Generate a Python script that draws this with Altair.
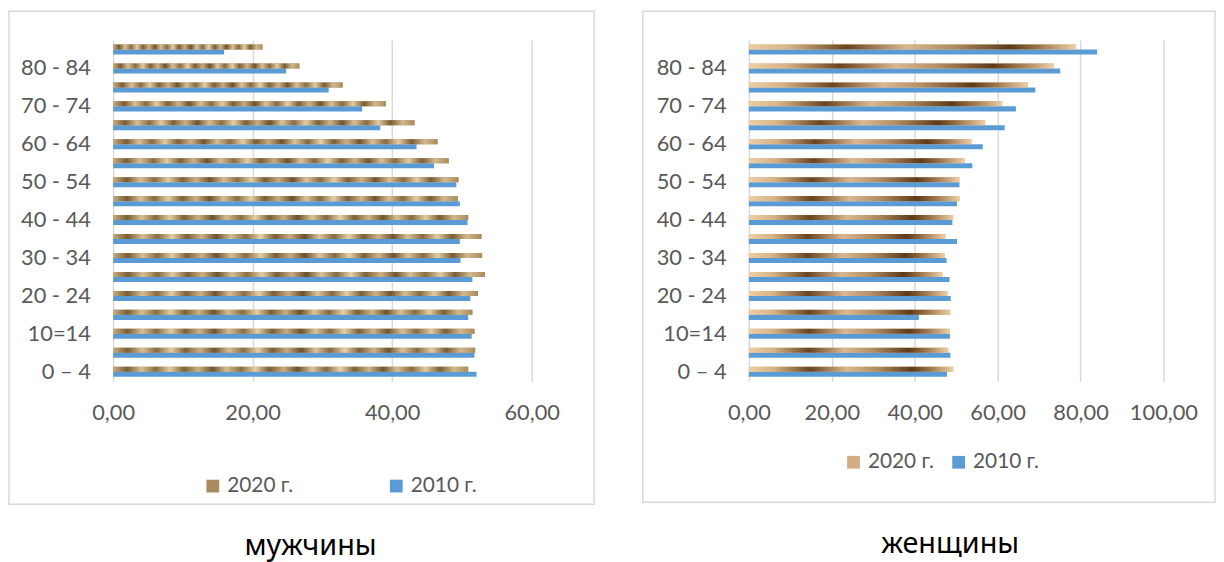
import altair as alt
import pandas as pd

ages = ["0 – 4", "5 - 9", "10=14", "15 - 19", "20 - 24", "25 - 29", "30 - 34", "35 - 39",
        "40 - 44", "45 - 49", "50 - 54", "55 - 59", "60 - 64", "65 - 69", "70 - 74",
        "75 - 79", "80 - 84", "85+"]
shown_ages = ["0 – 4", "10=14", "20 - 24", "30 - 34", "40 - 44", "50 - 54", "60 - 64", "70 - 74", "80 - 84"]
series = ["2020 г.", "2010 г."]

men_2020 = [50.9, 51.9, 51.8, 51.5, 52.3, 53.3, 52.9, 52.8, 50.9, 49.4, 49.5, 48.1, 46.5, 43.2, 39.1, 32.9, 26.7, 21.4]
men_2010 = [52.1, 51.8, 51.4, 50.9, 51.2, 51.5, 49.8, 49.7, 50.8, 49.7, 49.2, 46.0, 43.5, 38.3, 35.7, 30.9, 24.8, 15.9]
women_2020 = [49.3, 48.1, 48.4, 48.6, 47.9, 46.7, 47.2, 47.4, 49.3, 50.8, 50.8, 52.0, 53.7, 57.0, 61.1, 67.3, 73.5, 78.8]
women_2010 = [47.8, 48.6, 48.5, 41.0, 48.7, 48.4, 47.7, 50.2, 49.1, 50.2, 50.8, 53.9, 56.4, 61.7, 64.4, 69.1, 75.1, 84.0]

FONT = "Lato, 'Noto Sans', sans-serif"
GRAY = "#595959"
BLUE = "#5B9BD5"

def stops(pairs):
    return [alt.GradientStop(offset=o, color=c) for o, c in pairs]

men_grad = alt.LinearGradient(
    gradient="linear", x1=0, x2=1, y1=0, y2=0,
    stops=stops([(0.00, "#C9AD7E"), (0.04, "#7A5C35"), (0.08, "#D8C094"), (0.12, "#8A6A40"),
                 (0.16, "#E2CDA2"), (0.20, "#7E5F36"), (0.24, "#CDB285"), (0.28, "#6E5230"),
                 (0.32, "#D6BE92"), (0.36, "#8C6C42"), (0.40, "#E4D0A6"), (0.44, "#7A5C35"),
                 (0.48, "#C8AC7E"), (0.52, "#6C4F2C"), (0.56, "#DCC59A"), (0.60, "#866741"),
                 (0.64, "#E6D2A8"), (0.68, "#7C5E37"), (0.72, "#CFB487"), (0.76, "#70532F"),
                 (0.80, "#D9C195"), (0.84, "#8A6A40"), (0.88, "#E2CDA2"), (0.92, "#7A5C35"),
                 (0.96, "#D2B88B"), (1.00, "#A98B5E")]))

women_grad = alt.LinearGradient(
    gradient="linear", x1=0, x2=1, y1=0, y2=0,
    stops=stops([(0.00, "#EDCFA6"), (0.12, "#D8B386"), (0.30, "#6A4420"), (0.38, "#9C7650"),
                 (0.48, "#D9B890"), (0.62, "#B38D63"), (0.80, "#5E3A18"), (0.88, "#9A7046"),
                 (1.00, "#ECCFA8")]))


def panel(v2020, v2010, xmax, width, title, frame, leg_xy, col_pad, solid, grad, title_dx):
    df = pd.DataFrame({
        "age": ages * 2,
        "series": [series[0]] * len(ages) + [series[1]] * len(ages),
        "value": v2020 + v2010,
    })
    y = alt.Y("age:N", sort=ages[::-1],
              scale=alt.Scale(paddingInner=0.47, paddingOuter=0.235),
              axis=alt.Axis(values=shown_ages, title=None, ticks=False, domain=False,
                            labelPadding=23, labelFontSize=22, labelColor=GRAY,
                            labelFont=FONT, grid=False))
    x = alt.X("value:Q", scale=alt.Scale(domain=[0, xmax], nice=False),
              axis=alt.Axis(values=list(range(0, xmax + 1, 20)), title=None, ticks=False,
                            domain=False, labelPadding=22, labelFontSize=22,
                            labelColor=GRAY, labelFont=FONT, labelOverlap=False,
                            labelFlush=False,
                            labelExpr="replace(format(datum.value, '.2f'), '.', ',')",
                            grid=True, gridColor="#D9D9D9", gridWidth=1.5))
    yoff = alt.YOffset("series:N", sort=series,
                       scale=alt.Scale(domain=series, paddingInner=0, paddingOuter=0))
    base = alt.Chart(df)
    bars = base.mark_bar(cornerRadius=0).encode(
        x=x, y=y, yOffset=yoff,
        color=alt.Color("series:N", sort=series,
                        scale=alt.Scale(domain=series, range=[solid, BLUE]),
                        legend=alt.Legend(title=None, orient="none", legendX=leg_xy[0],
                                          legendY=leg_xy[1], direction="horizontal",
                                          symbolType="square", symbolSize=165,
                                          symbolStrokeWidth=0, labelFontSize=21,
                                          labelFont=FONT, labelColor=GRAY,
                                          columnPadding=col_pad, labelOffset=4, padding=0)),
    )
    overlay = base.transform_filter(alt.datum.series == series[0]).mark_bar(
        fill=grad, cornerRadius=0).encode(x=x, y=y, yOffset=yoff)
    box = alt.Chart(alt.Data(values=[{}])).mark_rect(
        fill="transparent", stroke="#D9D9D9", strokeWidth=1.5).encode(
        x=alt.value(frame[0]), x2=alt.value(frame[1]),
        y=alt.value(frame[2]), y2=alt.value(frame[3]))
    return alt.layer(box, bars, overlay).properties(
        width=width, height=344,
        title=alt.TitleParams(title, orient="bottom", anchor="middle", offset=27,
                              fontSize=29, font="'Noto Sans', sans-serif",
                              fontWeight="normal", color="black", dx=title_dx),
    )


men = panel(men_2020, men_2010, 60, 422, "мужчины", (-105, 485, -29, 468), (90, 439), 93,
            "#A88B5E", men_grad, -12)
women = panel(women_2020, women_2010, 100, 418, "женщины", (-107, 470, -29, 466), (95, 415), 14,
              "#D2AE82", women_grad, -6)

chart = (alt.hconcat(men, women, spacing=47)
         .resolve_scale(color="independent")
         .resolve_legend(color="independent")
         .properties(padding=0)
         .configure_view(stroke=None))
chart.save("out.html", embed_options={"renderer": "svg", "actions": False})
